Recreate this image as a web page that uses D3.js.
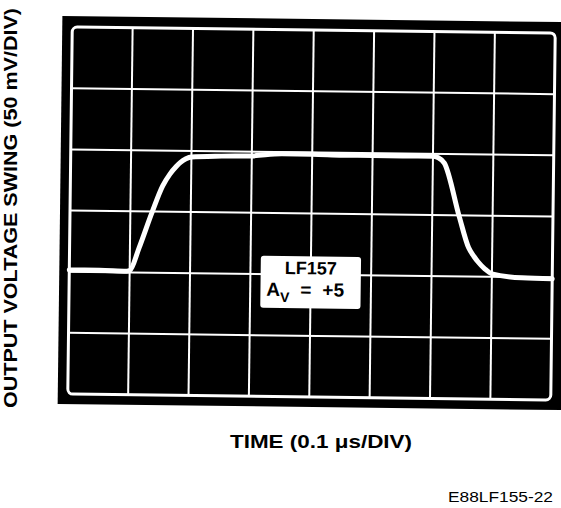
<!DOCTYPE html>
<html>
<head>
<meta charset="utf-8">
<script src="https://cdn.jsdelivr.net/npm/d3@7"></script>
<style>
  html, body { margin: 0; padding: 0; background: #fff; }
  svg { display: block; }
</style>
</head>
<body>
<svg id="chart" width="561" height="508"></svg>
<script>
// ---- data (divisions) ----
const xDivisions = [0, 1, 2, 3, 4, 5, 6, 7, 8];      // time divisions (0.1 µs/DIV)
const yDivisions = [0, 1, 2, 3, 4, 5, 6];            // voltage divisions (50 mV/DIV)
const timeDiv = [0, 0.5, 0.95, 1.0, 1.15, 1.36, 1.53, 1.65, 1.75, 1.82, 1.91, 2.0, 2.5, 3.0, 3.5, 4.0, 4.5, 5.0, 5.5, 6.0, 6.08, 6.19, 6.45, 6.61, 6.7, 6.77, 6.88, 7.0, 7.5, 8.0];
const voltDiv = [2.03, 2.03, 2.02, 2.03, 2.4, 2.99, 3.42, 3.62, 3.74, 3.81, 3.87, 3.9, 3.92, 3.93, 3.97, 3.97, 3.96, 3.96, 3.96, 3.96, 3.94, 3.85, 2.97, 2.47, 2.33, 2.24, 2.13, 2.05, 1.99, 1.98];
const yTitle = "OUTPUT VOLTAGE SWING (50 mV/DIV)";
const xTitle = "TIME (0.1 \u03bcs/DIV)";
const figId = "E88LF155-22";
const boxLine1 = "LF157";
const boxGain = "+5";

(function () {
const svg = d3.select("#chart");
const font = "'Liberation Sans', Arial, Helvetica, sans-serif";

const pL = 70, pR = 553, pT = 30, pB = 397;
const x = d3.scaleLinear().domain([0, 8]).range([pL, pR]);
const y = d3.scaleLinear().domain([0, 6]).range([pB, pT]);

const cx = (pL + pR) / 2, cy = (pT + pB) / 2;
const g = svg.append("g").attr("transform", `rotate(0.7 ${cx} ${cy})`);

// black screen frame
g.append("rect")
  .attr("x", pL - 10).attr("y", pT - 11)
  .attr("width", pR - pL + 22).attr("height", pB - pT + 21)
  .attr("fill", "#000");

// grid lines
g.append("g").selectAll("line").data(xDivisions.slice(1, -1)).join("line")
  .attr("x1", d => x(d)).attr("x2", d => x(d))
  .attr("y1", pT).attr("y2", pB)
  .attr("stroke", "#fff").attr("stroke-width", 2);
g.append("g").selectAll("line").data(yDivisions.slice(1, -1)).join("line")
  .attr("y1", d => y(d)).attr("y2", d => y(d))
  .attr("x1", pL).attr("x2", pR)
  .attr("stroke", "#fff").attr("stroke-width", 2);

// border
g.append("rect")
  .attr("x", x(0)).attr("y", y(6))
  .attr("width", x(8) - x(0)).attr("height", y(0) - y(6))
  .attr("rx", 5).attr("ry", 5)
  .attr("fill", "none").attr("stroke", "#fff").attr("stroke-width", 3);

// trace
const line = d3.line()
  .x((d, i) => x(timeDiv[i]))
  .y((d, i) => y(voltDiv[i]))
  .curve(d3.curveMonotoneX);
g.append("path")
  .datum(timeDiv)
  .attr("d", line)
  .attr("fill", "none").attr("stroke", "#fff")
  .attr("stroke-width", 5).attr("stroke-linejoin", "round").attr("stroke-linecap", "round");

// label box
const bx0 = x(3.17), bx1 = x(4.83), by0 = y(2.3), by1 = y(1.45);
g.append("rect")
  .attr("x", bx0).attr("y", by0)
  .attr("width", bx1 - bx0).attr("height", by1 - by0)
  .attr("rx", 3).attr("fill", "#fff");
const bcx = (bx0 + bx1) / 2;
g.append("text")
  .attr("x", bcx).attr("y", by0 + 18)
  .attr("text-anchor", "middle")
  .attr("font-family", font).attr("font-weight", "bold").attr("font-size", 18)
  .attr("fill", "#000")
  .text(boxLine1);
const t2 = g.append("text")
  .attr("y", by0 + 40)
  .attr("font-family", font).attr("font-weight", "bold").attr("font-size", 19)
  .attr("fill", "#000");
t2.append("tspan").attr("x", bx0 + 6).text("A");
t2.append("tspan").attr("dy", 6).attr("font-size", 14).text("V");
t2.append("tspan").attr("x", bx0 + 40).attr("dy", -6).text("=");
t2.append("tspan").attr("x", bx0 + 62).text(boxGain);

// axis titles
svg.append("text")
  .attr("transform", `translate(17, 208) rotate(-90)`)
  .attr("text-anchor", "middle")
  .attr("font-family", font).attr("font-weight", "bold").attr("font-size", 18)
  .attr("textLength", 400).attr("lengthAdjust", "spacingAndGlyphs")
  .attr("fill", "#000")
  .text(yTitle);

svg.append("text")
  .attr("x", 321).attr("y", 448)
  .attr("text-anchor", "middle")
  .attr("font-family", font).attr("font-weight", "bold").attr("font-size", 18)
  .attr("textLength", 182).attr("lengthAdjust", "spacingAndGlyphs")
  .attr("fill", "#000")
  .text(xTitle);

svg.append("text")
  .attr("x", 448).attr("y", 502)
  .attr("font-family", font).attr("font-size", 14)
  .attr("textLength", 105).attr("lengthAdjust", "spacingAndGlyphs")
  .attr("fill", "#000")
  .text(figId);
})();
</script>
</body>
</html>
